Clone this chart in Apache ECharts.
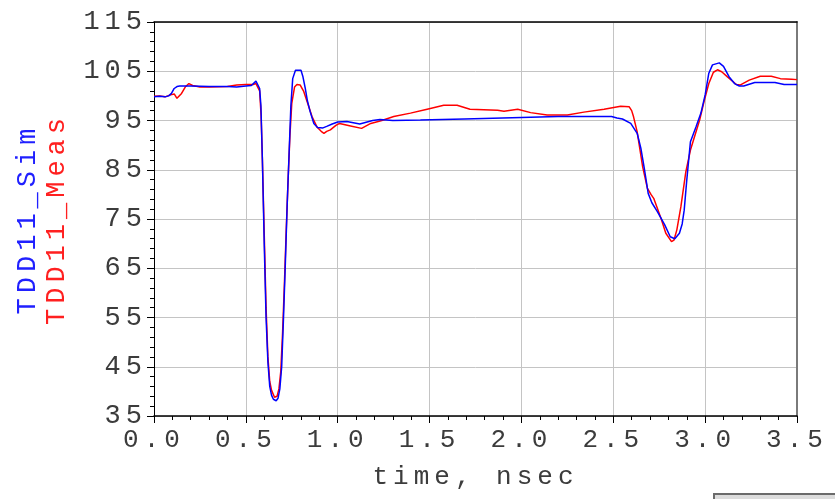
<!DOCTYPE html>
<html>
<head>
<meta charset="utf-8">
<script src="https://cdn.jsdelivr.net/npm/echarts@6/dist/echarts.min.js"></script>
<style>
html,body{margin:0;padding:0;background:#fff;}
#chart{width:835px;height:499px;}
</style>
</head>
<body>
<div id="chart"></div>
<script>
// Wide fixed-pitch lettering like the original plotter font
var LETTER_SPACING = '5px';
(function(){
  var P = CanvasRenderingContext2D.prototype;
  if (!('letterSpacing' in P)) return;
  var f = P.fillText, m = P.measureText, s = P.strokeText;
  P.fillText = function(){ this.letterSpacing = LETTER_SPACING; return f.apply(this, arguments); };
  P.strokeText = function(){ this.letterSpacing = LETTER_SPACING; return s.apply(this, arguments); };
  P.measureText = function(){ this.letterSpacing = LETTER_SPACING; return m.apply(this, arguments); };
})();

// ---- data (time in nsec, value) ----
var simTime = [0.00,0.03,0.06,0.08,0.095,0.11,0.125,0.14,0.20,0.30,0.40,0.45,0.50,0.53,0.555,0.565,0.575,0.582,0.59,0.60,0.61,0.62,0.63,0.64,0.65,0.665,0.675,0.685,0.695,0.705,0.715,0.725,0.735,0.745,0.755,0.77,0.80,0.81,0.823,0.835,0.85,0.87,0.89,0.92,0.94,0.97,1.00,1.05,1.12,1.19,1.23,1.30,1.45,1.69,2.00,2.20,2.49,2.52,2.55,2.595,2.63,2.65,2.67,2.69,2.71,2.74,2.78,2.81,2.835,2.86,2.875,2.886,2.90,2.92,2.95,2.977,3.00,3.02,3.04,3.077,3.10,3.13,3.16,3.186,3.21,3.27,3.38,3.43,3.50];
var simValue = [99.8,99.9,99.8,100.0,100.5,101.5,101.9,102.0,102.0,101.9,101.9,101.8,102.0,102.1,103.0,102.8,101.5,98.0,87.0,70.0,55.0,46.0,41.0,39.2,38.4,38.1,38.6,40.5,45.0,55.0,66.0,78.0,88.0,98.0,103.5,105.2,105.2,104.0,101.6,99.0,96.8,94.4,93.6,93.5,93.8,94.3,94.7,94.8,94.3,95.0,95.2,95.0,95.1,95.3,95.6,95.8,95.8,95.5,95.3,94.4,92.4,89.4,85.0,80.2,78.3,76.5,73.8,71.4,71.0,72.1,74.0,76.8,82.9,90.7,93.7,96.5,100.2,104.6,106.3,106.7,106.0,103.9,102.5,102.0,102.0,102.7,102.7,102.3,102.3];

var measTime = [0.00,0.03,0.06,0.09,0.11,0.125,0.135,0.15,0.17,0.19,0.21,0.25,0.30,0.40,0.45,0.50,0.54,0.555,0.565,0.575,0.583,0.59,0.60,0.61,0.62,0.63,0.64,0.656,0.67,0.68,0.69,0.70,0.71,0.72,0.73,0.74,0.75,0.765,0.778,0.796,0.815,0.84,0.86,0.887,0.91,0.925,0.94,0.96,0.99,1.01,1.07,1.13,1.18,1.24,1.305,1.396,1.487,1.577,1.65,1.72,1.87,1.905,1.98,2.05,2.14,2.25,2.34,2.45,2.54,2.586,2.60,2.61,2.63,2.66,2.686,2.705,2.72,2.76,2.786,2.817,2.83,2.846,2.868,2.895,2.92,2.97,2.995,3.02,3.045,3.067,3.09,3.12,3.17,3.19,3.24,3.30,3.36,3.41,3.47,3.50];
var measValue = [99.9,100.0,99.8,100.2,100.4,99.5,99.5,100.5,101.8,102.5,102.1,101.8,101.8,101.9,102.2,102.3,102.3,102.5,102.6,101.0,96.0,87.0,72.0,57.0,47.0,42.0,40.2,38.8,39.0,40.5,44.0,52.0,62.0,73.0,83.0,92.0,98.5,101.8,102.3,102.2,100.9,98.1,95.8,93.7,92.8,92.4,92.8,93.1,94.0,94.4,93.9,93.4,94.4,95.0,95.8,96.5,97.3,98.1,98.1,97.3,97.1,96.9,97.3,96.6,96.1,96.1,96.7,97.3,97.9,97.8,97.0,95.8,92.7,85.6,81.2,80.0,79.2,75.1,72.1,70.4,70.7,72.8,77.5,84.6,89.0,95.1,99.0,102.5,104.8,105.3,104.9,103.9,102.3,102.2,103.2,104.0,104.0,103.5,103.4,103.3];

// axis ranges / ticks
var Y_MIN = 35, Y_MAX = 115, Y_STEP = 10;
var X_MIN = 0, X_MAX = 3.5, X_STEP = 0.5;
var xName = 'time, nsec';
var simName = 'TDD11_Sim';
var measName = 'TDD11_Meas';

var FONT = 'Liberation Mono';
var TEXT_COLOR = '#3c3c3c';

function pairs(ts, vs){ return ts.map(function(t,i){ return [t, vs[i] - Y_MIN]; }); }

var chart = echarts.init(document.getElementById('chart'), null, {renderer:'canvas'});
chart.setOption({
  animation: false,
  backgroundColor: '#ffffff',
  grid: { left: 154, right: 38, top: 22, bottom: 83, containLabel: false },
  xAxis: [{
    type: 'value', min: X_MIN, max: X_MAX, interval: X_STEP,
    name: xName, nameLocation: 'middle', nameGap: 46,
    nameTextStyle: { fontFamily: FONT, fontSize: 26, color: TEXT_COLOR },
    axisLine: { show: true, onZero: false, lineStyle: { color: '#000', width: 1.5 } },
    axisTick: { show: true, length: 7, lineStyle: { color: '#000', width: 1 } },
    minorTick: { show: true, splitNumber: 5, length: 4, lineStyle: { color: '#000', width: 1 } },
    axisLabel: { fontFamily: FONT, fontSize: 26, color: TEXT_COLOR, margin: 9,
      formatter: function(v){ return v.toFixed(1); } },
    splitLine: { show: true, lineStyle: { color: '#c4c4c4', width: 1 } }
  }, {
    type: 'value', min: X_MIN, max: X_MAX, position: 'top',
    axisLine: { show: true, onZero: false, lineStyle: { color: '#000', width: 1.5 } },
    axisTick: { show: false }, axisLabel: { show: false }, splitLine: { show: false }
  }],
  yAxis: [{
    type: 'value', min: 0, max: Y_MAX - Y_MIN, interval: Y_STEP,
    name: '{s|' + simName + '}\n{m|' + measName + '}',
    nameLocation: 'middle', nameRotate: 90, nameGap: 83,
    nameTextStyle: { fontFamily: FONT, fontSize: 27,
      rich: {
        s: { fontFamily: FONT, fontSize: 27, color: '#2020ff', lineHeight: 29 },
        m: { fontFamily: FONT, fontSize: 27, color: '#ff2020', lineHeight: 29 }
      } },
    axisLine: { show: true, onZero: false, lineStyle: { color: '#000', width: 1 } },
    axisTick: { show: true, length: 7, lineStyle: { color: '#000', width: 1 } },
    minorTick: { show: true, splitNumber: 5, length: 4, lineStyle: { color: '#000', width: 1 } },
    axisLabel: { fontFamily: FONT, fontSize: 27, color: TEXT_COLOR, margin: 7,
      formatter: function(v){ return String(v + Y_MIN); } },
    splitLine: { show: true, lineStyle: { color: '#c4c4c4', width: 1 } }
  }, {
    type: 'value', min: 0, max: Y_MAX - Y_MIN, position: 'right',
    axisLine: { show: true, onZero: false, lineStyle: { color: '#7a7a7a', width: 2 } },
    axisTick: { show: false }, axisLabel: { show: false }, splitLine: { show: false }
  }],
  series: [{
    name: measName, type: 'line', data: pairs(measTime, measValue),
    showSymbol: false, smooth: false,
    lineStyle: { color: '#ff0000', width: 1.5 }, itemStyle: { color: '#ff0000' }
  }, {
    name: simName, type: 'line', data: pairs(simTime, simValue),
    showSymbol: false, smooth: false,
    lineStyle: { color: '#0000ff', width: 1.5 }, itemStyle: { color: '#0000ff' }
  }],
  graphic: [{
    type: 'rect', left: 713, top: 493, silent: true,
    shape: { width: 130, height: 12 },
    style: { fill: '#dcdcdc', stroke: '#6b6b6b', lineWidth: 2 }
  }]
});
</script>
</body>
</html>
